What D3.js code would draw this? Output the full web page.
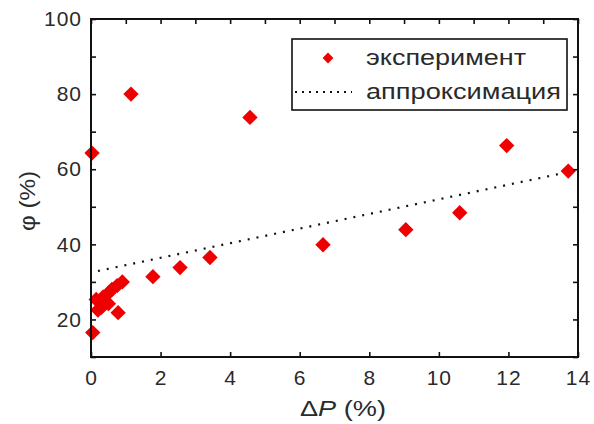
<!DOCTYPE html>
<html>
<head>
<meta charset="utf-8">
<script src="https://cdn.jsdelivr.net/npm/d3@7"></script>
<style>
  body { margin: 0; background: #fff; }
  svg text { font-family: "Liberation Sans", Arial, sans-serif; fill: #2a2a2a; }
</style>
</head>
<body>
<div id="chart"></div>
<script>
// experiment points: dP (%) and phi (%)
var dp  = [0.03, 0.05, 0.15, 0.2, 0.3, 0.35, 0.5, 0.5, 0.6, 0.75, 0.78, 0.9, 1.15, 1.78, 2.56, 3.42, 4.57, 6.67, 9.05, 10.6, 11.95, 13.72]
var phi = [64.3, 16.5, 25.3, 22.5, 23.2, 26, 27, 24.2, 28, 29, 21.8, 30, 80, 31.4, 33.8, 36.5, 73.8, 39.9, 43.9, 48.4, 66.3, 59.5]

// approximation line
var fit_x = [0.2, 13.6]
var fit_y = [32.9, 59.0]

var x_ticks = [0, 2, 4, 6, 8, 10, 12, 14]
var y_ticks = [20, 40, 60, 80, 100]
var legend_labels = ["эксперимент", "аппроксимация"]

var width = 594, height = 424
var margin = {left: 91, right: 16, top: 19, bottom: 67}

var svg = d3.select("#chart").append("svg")
    .attr("width", width)
    .attr("height", height)

var x = d3.scaleLinear().domain([0, 14]).range([margin.left, width - margin.right])
var y = d3.scaleLinear().domain([10, 100]).range([height - margin.bottom, margin.top])

var x0 = x.range()[0], x1 = x.range()[1]
var y0 = y.range()[0], y1 = y.range()[1]

// fit line (dotted)
svg.append("path")
    .datum(fit_x.map((d, i) => [d, fit_y[i]]))
    .attr("d", d3.line().x(d => x(d[0])).y(d => y(d[1])))
    .attr("fill", "none")
    .attr("stroke", "#111")
    .attr("stroke-width", 2.2)
    .attr("stroke-dasharray", "2 7")

// diamonds
var diamond = d3.symbol().type(d3.symbolSquare).size(118)
svg.selectAll("path.pt")
    .data(dp.map((d, i) => [d, phi[i]]))
    .join("path")
    .attr("class", "pt")
    .attr("d", diamond)
    .attr("transform", d => `translate(${x(d[0])},${y(d[1])}) rotate(45)`)
    .attr("fill", "#ee0000")

// axes: ticks pointing inward
var tickLen = 5
svg.append("g")
    .attr("transform", `translate(0,${y0})`)
    .call(d3.axisBottom(x).tickValues(x_ticks).tickSize(-tickLen).tickPadding(13).tickFormat(d3.format("d")))
    .call(g => g.select(".domain").remove())
svg.append("g")
    .attr("transform", `translate(0,${y1})`)
    .call(d3.axisTop(x).tickValues(d3.range(0, 15, 1)).tickSize(-tickLen).tickFormat(""))
    .call(g => g.select(".domain").remove())
svg.append("g")
    .attr("transform", `translate(${x0},0)`)
    .call(d3.axisLeft(y).tickValues(d3.range(10, 101, 10)).tickSize(-tickLen).tickPadding(9)
        .tickFormat(d => y_ticks.includes(d) ? d : ""))
    .call(g => g.select(".domain").remove())
svg.append("g")
    .attr("transform", `translate(${x1},0)`)
    .call(d3.axisRight(y).tickValues(d3.range(10, 101, 10)).tickSize(-tickLen).tickFormat(""))
    .call(g => g.select(".domain").remove())

svg.selectAll(".tick line").attr("stroke", "#111").attr("stroke-width", 1.6)
svg.selectAll(".tick text")
    .style("font-size", "21px")
    .style("letter-spacing", "1px")
    .attr("fill", "#2a2a2a")

// frame
svg.append("rect")
    .attr("x", x0).attr("y", y1)
    .attr("width", x1 - x0).attr("height", y0 - y1)
    .attr("fill", "none").attr("stroke", "#111").attr("stroke-width", 2)

// axis titles
var xt = svg.append("text")
    .attr("x", 300).attr("y", 416)
    .attr("textLength", 86)
    .attr("lengthAdjust", "spacingAndGlyphs")
    .style("font-size", "22px")
xt.append("tspan").text("Δ")
xt.append("tspan").style("font-style", "italic").text("P")
xt.append("tspan").text(" (%)")

svg.append("text")
    .attr("transform", "translate(35,231) rotate(-90)")
    .attr("textLength", 60)
    .attr("lengthAdjust", "spacingAndGlyphs")
    .style("font-size", "22px")
    .text("φ (%)")

// legend
var legend_widths = [160, 195]
var lg = svg.append("g")
lg.append("rect")
    .attr("x", 292).attr("y", 39).attr("width", 275).attr("height", 71)
    .attr("fill", "#fff").attr("stroke", "#111").attr("stroke-width", 1.6)
lg.append("path")
    .attr("d", diamond)
    .attr("fill", "#ee0000")
    .attr("transform", "translate(328,58) rotate(45) scale(0.7)")
lg.append("line")
    .attr("x1", 295).attr("x2", 352).attr("y1", 92).attr("y2", 92)
    .attr("stroke", "#111").attr("stroke-width", 2).attr("stroke-dasharray", "2 5")
lg.selectAll("text.lab")
    .data(legend_labels)
    .join("text")
    .attr("class", "lab")
    .attr("x", 366)
    .attr("y", (d, i) => 65 + i * 34)
    .attr("textLength", (d, i) => legend_widths[i])
    .attr("lengthAdjust", "spacingAndGlyphs")
    .style("font-size", "22px")
    .text(d => d)
</script>
</body>
</html>
